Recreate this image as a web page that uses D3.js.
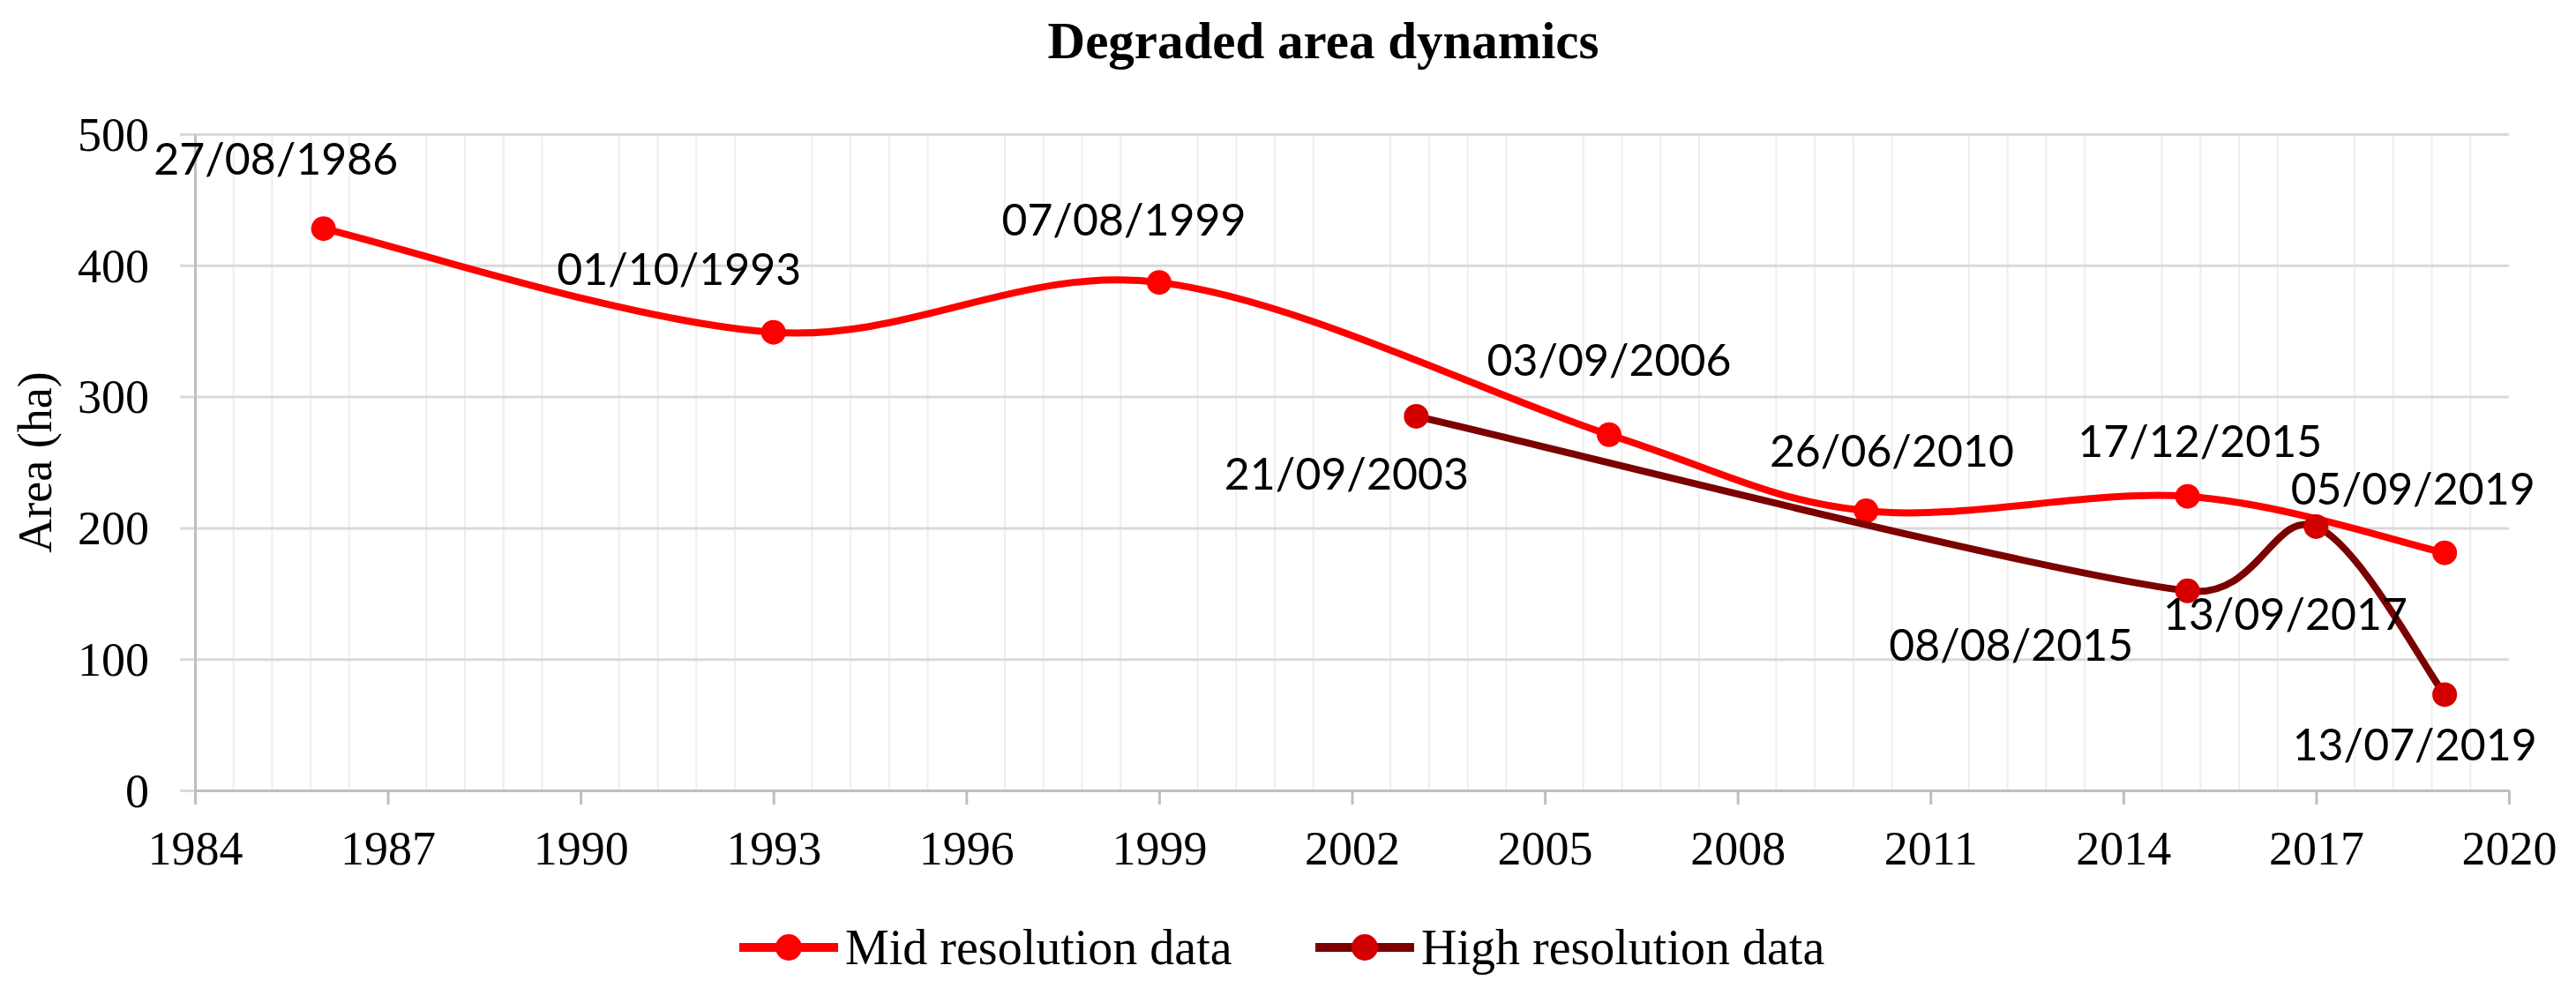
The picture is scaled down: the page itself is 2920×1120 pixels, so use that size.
<!DOCTYPE html>
<html>
<head>
<meta charset="utf-8">
<script src="https://cdn.jsdelivr.net/npm/d3@7"></script>
<style>
  body { margin: 0; background: #fff; }
  svg { display: block; }
</style>
</head>
<body>
<svg id="chart"></svg>
<script>
// data
let midYears = [1986, 1993, 1999, 2006, 2010, 2015, 2019];
let midValues = [428, 349, 387, 271, 213, 224, 181];
let midLabels = ['27/08/1986', '01/10/1993', '07/08/1999', '03/09/2006', '26/06/2010', '17/12/2015', '05/09/2019'];

let highYears = [2003, 2015, 2017, 2019];
let highValues = [285, 152, 201, 73];
let highLabels = ['21/09/2003', '08/08/2015', '13/09/2017', '13/07/2019'];

let xTicks = [1984, 1987, 1990, 1993, 1996, 1999, 2002, 2005, 2008, 2011, 2014, 2017, 2020];
let yTicks = [0, 100, 200, 300, 400, 500];

let seriesNames = ['Mid resolution data', 'High resolution data'];

// label offsets from their point (pixels)
let midOffsets = [[-54, -61], [-107, -54], [-40, -53], [0, -67], [29, -50], [14, -45], [-36, -55]];
let highOffsets = [[-79, 83], [-200, 79], [-35, 117], [-34, 75]];

let width = 2920;
let height = 1120;
let plotLeft = 221, plotRight = 2844, plotTop = 152, plotBottom = 896;

let midColor = '#ff0000';
let highLine = '#7b0000';
let highDot = '#d40000';

let svg = d3.select('#chart')
let serif = '"Liberation Serif", "Times New Roman", serif';
let sans = 'Lato, "Noto Sans", sans-serif';

let drawCanvas = () => {
    svg.attr('width', width).attr('height', height)
}

let xScale = d3.scaleLinear().domain([1984, 2020]).range([plotLeft, plotRight]);
let yScale = d3.scaleLinear().domain([0, 500]).range([plotBottom, plotTop]);

let drawGrid = () => {
    // minor vertical gridlines every 0.6 year, skipped where major ticks sit
    let minor = d3.range(1, 60).map(i => 1984 + i * 0.6).filter((d, i) => (i + 1) % 5 != 0);
    svg.append('g')
       .selectAll('line')
       .data(minor)
       .enter()
       .append('line')
       .attr('x1', d => xScale(d)).attr('x2', d => xScale(d))
       .attr('y1', plotTop).attr('y2', plotBottom)
       .attr('stroke', '#eeeeee')
       .attr('stroke-width', 2)

    let yAxis = d3.axisLeft(yScale).tickValues(yTicks).tickSize(-(plotRight - plotLeft)).tickFormat('')
    let gy = svg.append('g')
       .attr('transform', 'translate(' + plotLeft + ',0)')
       .call(yAxis)
    gy.select('.domain').remove()
    gy.selectAll('line').attr('stroke', '#d9d9d9').attr('stroke-width', 3).attr('x1', -17)
}

let drawAxes = () => {
    let xAxis = d3.axisBottom(xScale).tickValues(xTicks).tickSize(16).tickSizeOuter(0).tickFormat(d3.format('d'))
    let gx = svg.append('g')
       .attr('transform', 'translate(0,' + plotBottom + ')')
       .call(xAxis)
    gx.select('.domain').attr('stroke', '#bfbfbf').attr('stroke-width', 3)
    gx.selectAll('line').attr('stroke', '#bfbfbf').attr('stroke-width', 3)
    gx.selectAll('text')
      .attr('font-family', serif).attr('font-size', 54).attr('fill', '#000')
      .attr('y', 0).attr('dy', 84)

    let gy = svg.append('g')
       .attr('transform', 'translate(' + plotLeft + ',0)')
       .call(d3.axisLeft(yScale).tickValues(yTicks).tickSize(0).tickPadding(52))
    gy.select('.domain').attr('stroke', '#bfbfbf').attr('stroke-width', 3)
    gy.selectAll('text')
      .attr('font-family', serif).attr('font-size', 54).attr('fill', '#000')
      .attr('dy', '0.34em')

    svg.append('text')
       .attr('transform', 'translate(58,' + ((plotTop + plotBottom) / 2) + ') rotate(-90)')
       .attr('text-anchor', 'middle')
       .attr('font-family', serif).attr('font-size', 54)
       .text('Area (ha)')

    svg.append('text')
       .attr('x', 1500).attr('y', 66)
       .attr('text-anchor', 'middle')
       .attr('font-family', serif).attr('font-size', 59).attr('font-weight', 'bold')
       .text('Degraded area dynamics')
}

// Excel-style smoothed line: bezier with 1/6 neighbour tangents, capped at half the segment
let smoothPath = (pts) => {
    let p = pts.map(d => [xScale(d[0]), yScale(d[1])])
    let path = d3.path()
    path.moveTo(p[0][0], p[0][1])
    let dist = (a, b) => Math.hypot(b[0] - a[0], b[1] - a[1])
    for (let i = 0; i < p.length - 1; i++) {
        let p0 = p[i - 1] || p[i], p1 = p[i], p2 = p[i + 1], p3 = p[i + 2] || p[i + 1]
        let d12 = dist(p1, p2), d02 = dist(p0, p2), d13 = dist(p1, p3)
        let f1 = 1 / 6, f2 = 1 / 6
        if (d02 / 6 > d12 / 2) f1 = d12 / (2 * d02)
        if (d13 / 6 > d12 / 2) f2 = d12 / (2 * d13)
        path.bezierCurveTo(
            p1[0] + f1 * (p2[0] - p0[0]), p1[1] + f1 * (p2[1] - p0[1]),
            p2[0] - f2 * (p3[0] - p1[0]), p2[1] - f2 * (p3[1] - p1[1]),
            p2[0], p2[1])
    }
    return path.toString()
}

let drawSeries = (years, values, labels, offsets, lineColor, dotColor) => {
    let pts = years.map((y, i) => [y, values[i]])
    svg.append('path')
       .datum(pts)
       .attr('d', smoothPath)
       .attr('fill', 'none')
       .attr('stroke', lineColor)
       .attr('stroke-width', 8)
       .attr('stroke-linejoin', 'round')
    svg.append('g')
       .selectAll('circle')
       .data(pts)
       .enter()
       .append('circle')
       .attr('cx', d => xScale(d[0]))
       .attr('cy', d => yScale(d[1]))
       .attr('r', 14)
       .attr('fill', dotColor)
    svg.append('g')
       .selectAll('text')
       .data(pts)
       .enter()
       .append('text')
       .attr('x', (d, i) => xScale(d[0]) + offsets[i][0])
       .attr('y', (d, i) => yScale(d[1]) + offsets[i][1])
       .attr('text-anchor', 'middle')
       .attr('font-family', sans).attr('font-size', 51)
       .attr('textLength', 277).attr('lengthAdjust', 'spacingAndGlyphs')
       .text((d, i) => labels[i])
}

let drawLegend = () => {
    let items = [
        {name: seriesNames[0], x: 838, line: midColor, dot: midColor},
        {name: seriesNames[1], x: 1491, line: highLine, dot: highDot}
    ]
    let g = svg.append('g').selectAll('g').data(items).enter().append('g')
       .attr('transform', d => 'translate(' + d.x + ',1074)')
    g.append('line').attr('x1', 0).attr('x2', 112).attr('stroke', d => d.line).attr('stroke-width', 10)
    g.append('circle').attr('cx', 56).attr('r', 15).attr('fill', d => d.dot)
    g.append('text')
     .attr('x', 120).attr('y', 19)
     .attr('font-family', serif).attr('font-size', 56)
     .text(d => d.name)
}

drawCanvas();
drawGrid();
drawAxes();
drawSeries(midYears, midValues, midLabels, midOffsets, midColor, midColor);
drawSeries(highYears, highValues, highLabels, highOffsets, highLine, highDot);
drawLegend();
</script>
</body>
</html>
